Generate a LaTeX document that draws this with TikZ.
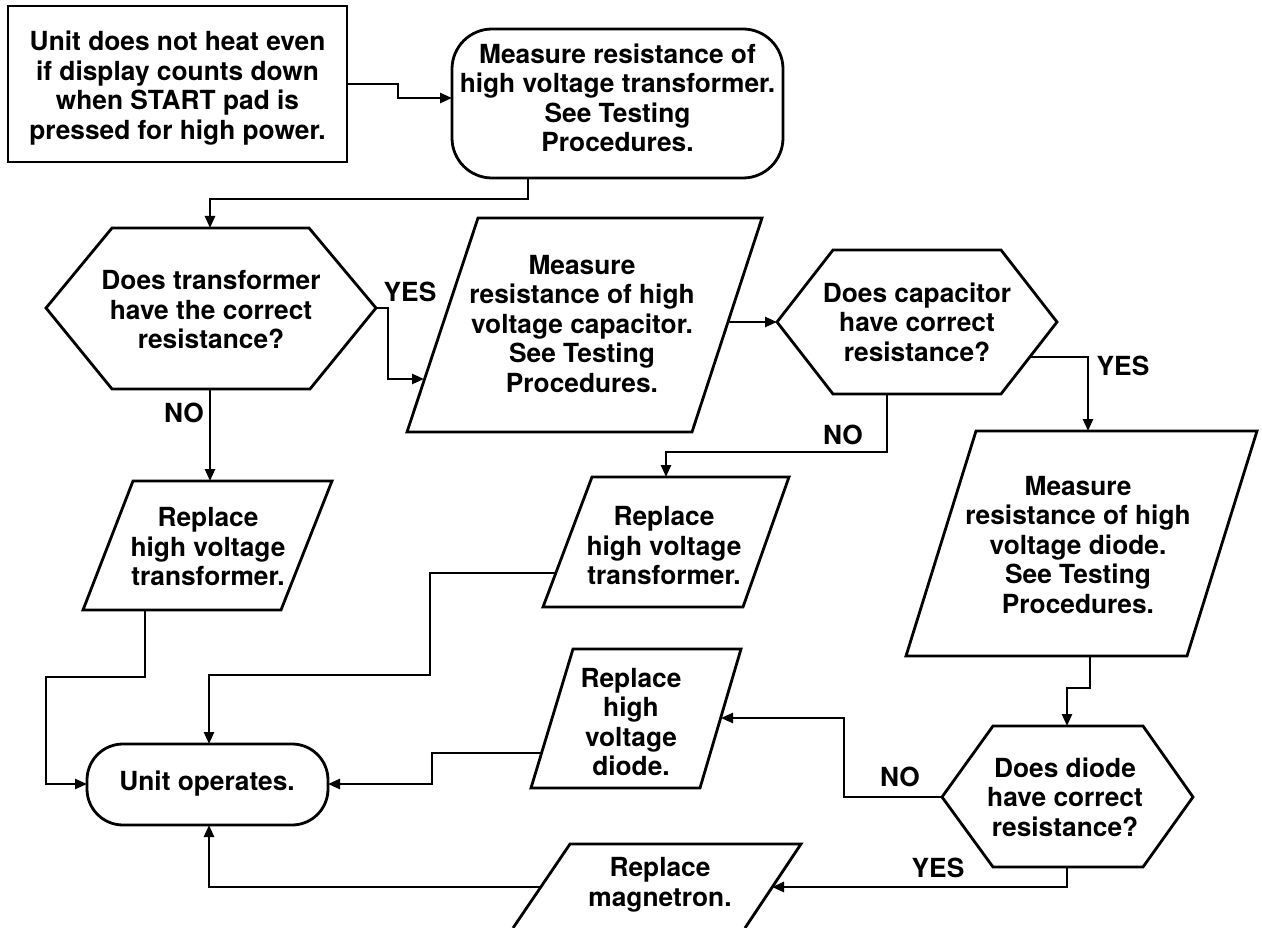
\documentclass[tikz,border=0pt]{standalone}
\usepackage{fontspec}
\setmainfont{TeX Gyre Heros}
\usetikzlibrary{arrows.meta}
\begin{document}
\begin{tikzpicture}[x=1pt,y=-1pt,
  shp/.style={line width=2.8pt, line join=miter},
  con/.style={line width=2.5pt, -{Triangle[length=12pt,width=10pt]}},
  txt/.style={align=center, font=\fontsize{26.3}{29.5}\selectfont\bfseries, inner sep=0pt},
  lbl/.style={font=\fontsize{26.3}{29.5}\selectfont\bfseries, inner sep=0pt}]
\path[use as bounding box] (0,0) rectangle (1262,928);

% ---------- shapes ----------
% start box
\draw[shp] (8,6) rectangle (347,162);
\node[txt] (S) at (177.5,88) {Unit does not heat even\\if display counts down\\when START pad is\\pressed for high power.};
% rounded box
\draw[shp, rounded corners=40pt] (452,29) rectangle (783,178);
\node[txt] (R) at (617.5,98) {Measure resistance of\\high voltage transformer.\\See Testing\\Procedures.};
% hexagon 1
\draw[shp] (46,308) -- (112,228) -- (309,228) -- (376,308) -- (310,389) -- (112,389) -- cycle;
\node[txt] (H1) at (211,310) {Does transformer\\have the correct\\resistance?};
% parallelogram P2
\draw[shp] (478,218) -- (762,218) -- (692,432) -- (407,432) -- cycle;
\node[txt] (P2) at (582,324) {Measure\\resistance of high\\voltage capacitor.\\See Testing\\Procedures.};
% hexagon 2
\draw[shp] (777,322) -- (833,250) -- (1001,250) -- (1057,322) -- (1001,394) -- (833,394) -- cycle;
\node[txt] (H2) at (917,322) {Does capacitor\\have correct\\resistance?};
% parallelogram P1
\draw[shp] (133,481) -- (332,481) -- (281,610) -- (83,610) -- cycle;
\node[txt] (P1) at (208,547) {Replace\\high voltage\\transformer.};
% parallelogram P4
\draw[shp] (592,477) -- (789,477) -- (743,607) -- (543,607) -- cycle;
\node[txt] (P4) at (664,546) {Replace\\high voltage\\transformer.};
% parallelogram P3
\draw[shp] (976,431) -- (1257,431) -- (1187,656) -- (906,656) -- cycle;
\node[txt] (P3) at (1078,545) {Measure\\resistance of high\\voltage diode.\\See Testing\\Procedures.};
% unit operates
\draw[shp, rounded corners=36pt] (87,744) rectangle (328,825);
\node[txt] (U) at (207,784) {Unit operates.};
% parallelogram P5
\draw[shp] (573,649) -- (741,649) -- (700,788) -- (531,788) -- cycle;
\node[txt] (P5) at (631,722) {Replace\\high\\voltage\\diode.};
% hexagon 3
\draw[shp] (942,797) -- (993,726) -- (1143,726) -- (1193,797) -- (1143,867) -- (993,867) -- cycle;
\node[txt] (H3) at (1065,797) {Does diode\\have correct\\resistance?};
% parallelogram P6 (cut by the page edge)
\draw[shp] (513,928) -- (570,844) -- (801,844) -- (745,928);
\node[txt] (P6) at (660,885) {Replace\\magnetron.};

% ---------- connection points ----------
\coordinate (S-e) at (347,84);
\coordinate (R-w) at (452,98);
\coordinate (R-s) at (528,178);
\coordinate (H1-n) at (210,228);
\coordinate (H1-e) at (376,308);
\coordinate (H1-s) at (210,389);
\coordinate (P2-w) at (424,379);
\coordinate (P2-e) at (727,322);
\coordinate (H2-w) at (777,322);
\coordinate (H2-se) at (1030,357);
\coordinate (H2-s) at (887,394);
\coordinate (P3-n) at (1088,431);
\coordinate (P3-s) at (1090,656);
\coordinate (P1-n) at (210,481);
\coordinate (P1-s) at (145,610);
\coordinate (P4-n) at (666,477);
\coordinate (P4-w) at (556,573);
\coordinate (U-n) at (209,744);
\coordinate (U-s) at (209,825);
\coordinate (U-w) at (87,784);
\coordinate (U-e) at (328,784);
\coordinate (P5-w) at (541,753);
\coordinate (P5-e) at (721,718);
\coordinate (H3-n) at (1067,726);
\coordinate (H3-w) at (942,797);
\coordinate (H3-s) at (1067,867);
\coordinate (P6-e) at (772,887);
\coordinate (P6-w) at (541,887);

% ---------- connectors ----------
\draw[con] (S-e) -- ++(51,0) |- (R-w);
\draw[con] (R-s) -- ++(0,21) -| (H1-n);
\draw[con] (H1-e) -- ++(12,0) |- (P2-w);
\draw[con] (H1-s) -- (P1-n);
\draw[con] (P2-e) -- (H2-w);
\draw[con] (H2-se) -| (P3-n);
\draw[con] (H2-s) -- ++(0,58) -| (P4-n);
\draw[con] (P3-s) -- ++(0,32) -| (H3-n);
\draw[con] (P1-s) -- ++(0,67) -- ++(-99,0) |- (U-w);
\draw[con] (P4-w) -- ++(-126,0) -- ++(0,102) -| (U-n);
\draw[con] (P5-w) -- ++(-109,0) |- (U-e);
\draw[con] (H3-w) -- ++(-98,0) |- (P5-e);
\draw[con] (H3-s) |- (P6-e);
\draw[con] (P6-w) -| (U-s);

% ---------- labels ----------
\node[lbl] (yes1) at (410,292) {YES};
\node[lbl] (no1) at (184,413) {NO};
\node[lbl] (yes2) at (1123,366) {YES};
\node[lbl] (no2) at (843,435) {NO};
\node[lbl] (no3) at (900,777) {NO};
\node[lbl] (yes3) at (938,868) {YES};
\end{tikzpicture}
\end{document}
